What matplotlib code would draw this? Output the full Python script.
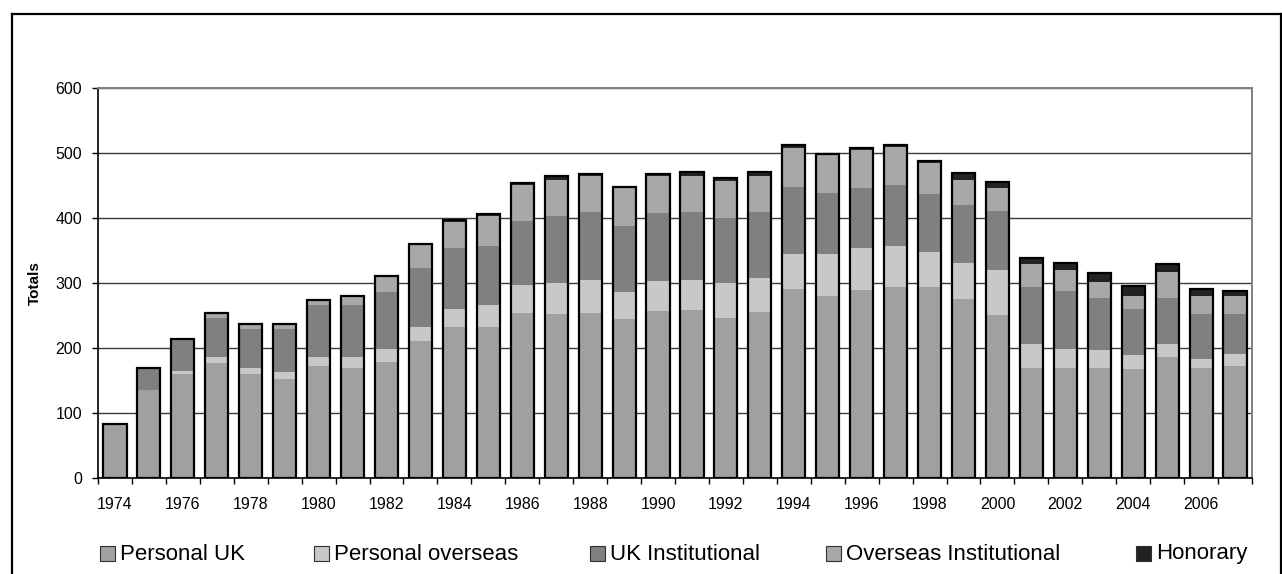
import numpy as np
import matplotlib.pyplot as plt
from matplotlib.patches import Rectangle
from matplotlib.lines import Line2D

plt.rcParams['font.family'] = ['Liberation Sans', 'DejaVu Sans']

# data
years = list(range(1974, 2008))
personal_uk = [83, 135, 160, 176, 160, 151, 171, 169, 178, 210, 232, 232, 253, 252, 253, 244, 257,
               258, 246, 255, 290, 280, 289, 294, 294, 275, 250, 169, 169, 169, 167, 185, 169, 172]
personal_overseas = [0, 0, 4, 9, 9, 11, 14, 16, 20, 22, 28, 33, 43, 48, 51, 41, 46,
                     46, 53, 52, 55, 65, 64, 63, 54, 55, 69, 36, 29, 27, 22, 20, 14, 18]
uk_institutional = [0, 33, 50, 61, 59, 66, 80, 80, 87, 91, 94, 92, 99, 103, 105, 102, 104,
                    105, 101, 102, 102, 94, 93, 93, 89, 89, 91, 89, 89, 80, 71, 71, 69, 62]
overseas_institutional = [0, 0, 0, 7, 8, 8, 8, 15, 25, 36, 39, 46, 55, 56, 56, 60, 57,
                          56, 56, 56, 60, 60, 58, 59, 47, 40, 36, 35, 32, 25, 20, 41, 28, 28]
honorary = [0, 0, 0, 0, 0, 0, 0, 0, 0, 0, 3, 3, 3, 5, 3, 0, 4,
            5, 5, 5, 5, 0, 3, 3, 3, 10, 9, 9, 12, 14, 15, 12, 10, 7]

series = [('Personal UK', personal_uk, '#a0a0a0'),
          ('Personal overseas', personal_overseas, '#c8c8c8'),
          ('UK Institutional', uk_institutional, '#808080'),
          ('Overseas Institutional', overseas_institutional, '#a8a8a8'),
          ('Honorary', honorary, '#222222')]

W, H = 1282, 574
fig = plt.figure(figsize=(W / 100, H / 100), dpi=100)
ax = fig.add_axes([98 / W, 1 - 477.5 / H, (1252 - 98) / W, (477.5 - 88) / H])

x = np.arange(len(years))
width = 0.68
bottom = np.zeros(len(years))
for name, vals, col in series:
    vals = np.array(vals, dtype=float)
    ax.bar(x, vals, width, bottom=bottom, color=col, edgecolor='none', zorder=2)
    bottom += vals
# outline of each stacked bar
ax.bar(x, bottom, width, facecolor='none', edgecolor='black', linewidth=1.6, zorder=3)

ax.set_xlim(-0.5, len(years) - 0.5)
ax.set_ylim(0, 600)
ax.set_yticks(range(0, 601, 100))
ax.yaxis.grid(True, color='#3a3a3a', linewidth=1.0, zorder=0)
ax.set_axisbelow(True)
ax.tick_params(axis='y', labelsize=11.5, length=4.5, width=1, pad=7, direction='out')

# ticks at category boundaries, labels every other year
ax.set_xticks(np.arange(-0.5, len(years)), labels=[])
ax.tick_params(axis='x', which='major', length=4.5, width=1, direction='out')
ax.set_xticks(x[::2], labels=[str(y) for y in years[::2]], minor=True)
ax.tick_params(axis='x', which='minor', length=0, labelsize=11.5, pad=14)

for s in ['left', 'bottom']:
    ax.spines[s].set_color('black')
    ax.spines[s].set_linewidth(1.2)
for s in ['top', 'right']:
    ax.spines[s].set_color('#808080')
    ax.spines[s].set_linewidth(1.4)

fig.text(35 / W, 1 - 283 / H, 'Totals', rotation=90, ha='center', va='center',
         fontsize=11, fontweight='bold')

# legend laid out by hand, as in the original
marker_x = [100, 314, 590, 826, 1136]
ly = 554
for (name, vals, col), mx in zip(series, marker_x):
    fig.add_artist(Rectangle((mx / W, 1 - (ly + 7) / H), 15 / W, 15 / H,
                             transform=fig.transFigure, facecolor=col,
                             edgecolor='#303030', linewidth=0.8))
    fig.text((mx + 20) / W, 1 - ly / H, name, ha='left', va='center', fontsize=16)

# outer chart border
fig.add_artist(Line2D([12 / W, 12 / W], [0, 1 - 14 / H], color='black', linewidth=1.6,
                      transform=fig.transFigure))
fig.add_artist(Line2D([12 / W, 1], [1 - 14 / H, 1 - 14 / H], color='black', linewidth=1.6,
                      transform=fig.transFigure))
fig.add_artist(Line2D([1280.5 / W, 1280.5 / W], [0, 1 - 14 / H], color='black', linewidth=1.6,
                      transform=fig.transFigure))

fig.savefig('out.png', dpi=100)
